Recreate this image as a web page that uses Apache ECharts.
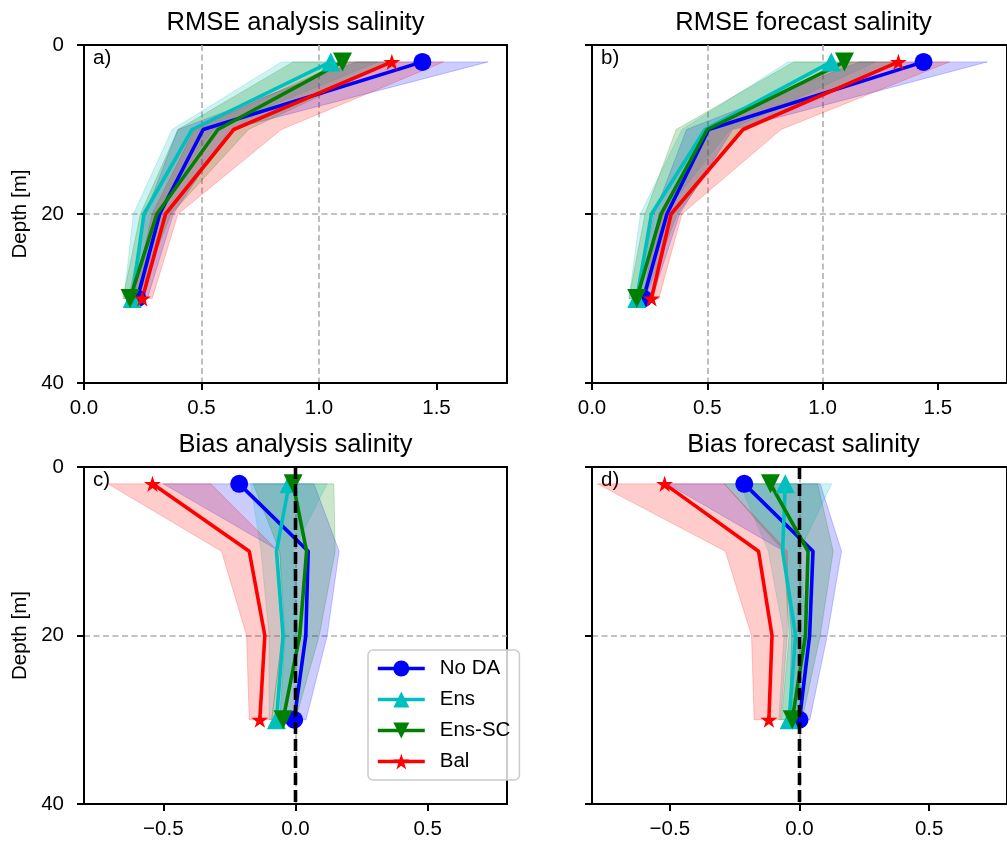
<!DOCTYPE html>
<html>
<head>
<meta charset="utf-8">
<script src="https://cdn.jsdelivr.net/npm/echarts@6/dist/echarts.min.js"></script>
<style>
html,body{margin:0;padding:0;background:#fff;}
#main{width:1007px;height:848px;}
</style>
</head>
<body>
<div id="main"></div>
<script>
// ---------------- DATA ----------------
const depth = [2, 10, 20, 30];
const seriesNames = ['No DA', 'Ens', 'Ens-SC', 'Bal'];
const panelTitles = ['RMSE analysis salinity', 'RMSE forecast salinity', 'Bias analysis salinity', 'Bias forecast salinity'];
const panelLetters = ['a)', 'b)', 'c)', 'd)'];
const rmseTicks = [0, 0.5, 1.0, 1.5];
const biasTicks = [-0.5, 0, 0.5];
const depthTicks = [0, 20, 40];
const zeroRef = 0;

// a) RMSE analysis
const rmseAnaNoDA = [1.44, 0.507, 0.322, 0.227];
const rmseAnaNoDALo = [1.16, 0.40, 0.26, 0.19];
const rmseAnaNoDAHi = [1.72, 0.62, 0.38, 0.27];
const rmseAnaEns = [1.05, 0.46, 0.255, 0.205];
const rmseAnaEnsLo = [0.84, 0.375, 0.21, 0.17];
const rmseAnaEnsHi = [1.25, 0.55, 0.30, 0.24];
const rmseAnaEnsSC = [1.10, 0.57, 0.31, 0.196];
const rmseAnaEnsSCLo = [0.89, 0.40, 0.24, 0.165];
const rmseAnaEnsSCHi = [1.31, 0.70, 0.37, 0.23];
const rmseAnaBal = [1.31, 0.637, 0.347, 0.248];
const rmseAnaBalLo = [1.10, 0.47, 0.29, 0.21];
const rmseAnaBalHi = [1.53, 0.84, 0.40, 0.29];

// b) RMSE forecast
const rmseFcNoDA = [1.438, 0.506, 0.325, 0.223];
const rmseFcNoDALo = [1.16, 0.41, 0.27, 0.19];
const rmseFcNoDAHi = [1.715, 0.61, 0.38, 0.26];
const rmseFcEns = [1.038, 0.49, 0.258, 0.194];
const rmseFcEnsLo = [0.85, 0.39, 0.21, 0.16];
const rmseFcEnsHi = [1.23, 0.60, 0.31, 0.23];
const rmseFcEnsSC = [1.095, 0.50, 0.30, 0.194];
const rmseFcEnsSCLo = [0.875, 0.365, 0.23, 0.16];
const rmseFcEnsSCHi = [1.32, 0.64, 0.37, 0.23];
const rmseFcBal = [1.329, 0.655, 0.343, 0.258];
const rmseFcBalLo = [1.11, 0.50, 0.29, 0.22];
const rmseFcBalHi = [1.55, 0.82, 0.39, 0.29];

// c) Bias analysis
const biasAnaNoDA = [-0.213, 0.048, 0.039, -0.005];
const biasAnaNoDALo = [-0.50, -0.06, -0.04, -0.06];
const biasAnaNoDAHi = [0.07, 0.165, 0.12, 0.04];
const biasAnaEns = [-0.024, -0.072, -0.047, -0.072];
const biasAnaEnsLo = [-0.17, -0.13, -0.10, -0.10];
const biasAnaEnsHi = [0.12, -0.01, 0.01, -0.04];
const biasAnaEnsSC = [-0.009, 0.042, 0.016, -0.047];
const biasAnaEnsSCLo = [-0.16, -0.06, -0.05, -0.09];
const biasAnaEnsSCHi = [0.145, 0.15, 0.09, 0.0];
const biasAnaBal = [-0.541, -0.175, -0.116, -0.135];
const biasAnaBalLo = [-0.71, -0.28, -0.185, -0.175];
const biasAnaBalHi = [-0.32, -0.065, -0.05, -0.09];

// d) Bias forecast
const biasFcNoDA = [-0.213, 0.052, 0.039, 0.0];
const biasFcNoDALo = [-0.51, -0.06, -0.03, -0.04];
const biasFcNoDAHi = [0.08, 0.162, 0.107, 0.04];
const biasFcEns = [-0.055, -0.065, -0.015, -0.04];
const biasFcEnsLo = [-0.23, -0.12, -0.06, -0.08];
const biasFcEnsHi = [0.124, 0.0, 0.03, 0.0];
const biasFcEnsSC = [-0.112, 0.033, 0.023, -0.028];
const biasFcEnsSCLo = [-0.29, -0.06, -0.04, -0.07];
const biasFcEnsSCHi = [0.07, 0.13, 0.08, 0.01];
const biasFcBal = [-0.52, -0.158, -0.106, -0.118];
const biasFcBalLo = [-0.78, -0.286, -0.185, -0.175];
const biasFcBalHi = [-0.29, -0.047, -0.047, -0.073];

// ---------------- STYLE ----------------
const FONT = '"Liberation Sans", Arial, sans-serif';
const colors = ['#0000ff', '#00bfbf', '#008000', '#ff0000'];
const bandFills = ['rgba(0,0,255,0.2)', 'rgba(0,191,191,0.2)', 'rgba(0,128,0,0.2)', 'rgba(255,0,0,0.2)'];
const STAR = 'path://M50,0 L61.2,34.5 L97.6,34.5 L68.2,55.9 L79.4,90.5 L50,69.1 L20.6,90.5 L31.8,55.9 L2.4,34.5 L38.8,34.5 Z';
const DOWNTRI = 'path://M0,0 L100,0 L50,100 Z';
const symbols = ['circle', 'triangle', DOWNTRI, STAR];
const symbolSizes = [18, 19, 19, 17];

const panels = [
  { means: [rmseAnaNoDA, rmseAnaEns, rmseAnaEnsSC, rmseAnaBal], los: [rmseAnaNoDALo, rmseAnaEnsLo, rmseAnaEnsSCLo, rmseAnaBalLo], his: [rmseAnaNoDAHi, rmseAnaEnsHi, rmseAnaEnsSCHi, rmseAnaBalHi], bias: false },
  { means: [rmseFcNoDA, rmseFcEns, rmseFcEnsSC, rmseFcBal], los: [rmseFcNoDALo, rmseFcEnsLo, rmseFcEnsSCLo, rmseFcBalLo], his: [rmseFcNoDAHi, rmseFcEnsHi, rmseFcEnsSCHi, rmseFcBalHi], bias: false },
  { means: [biasAnaNoDA, biasAnaEns, biasAnaEnsSC, biasAnaBal], los: [biasAnaNoDALo, biasAnaEnsLo, biasAnaEnsSCLo, biasAnaBalLo], his: [biasAnaNoDAHi, biasAnaEnsHi, biasAnaEnsSCHi, biasAnaBalHi], bias: true },
  { means: [biasFcNoDA, biasFcEns, biasFcEnsSC, biasFcBal], los: [biasFcNoDALo, biasFcEnsLo, biasFcEnsSCLo, biasFcBalLo], his: [biasFcNoDAHi, biasFcEnsHi, biasFcEnsSCHi, biasFcBalHi], bias: true }
];

const gridBoxes = [
  { left: 84, top: 45, width: 423, height: 338 },
  { left: 592, top: 45, width: 423, height: 338 },
  { left: 84, top: 467, width: 423, height: 337 },
  { left: 592, top: 467, width: 423, height: 337 }
];

function fmtX(v) {
  const s = Math.abs(v).toFixed(1);
  return v < -1e-9 ? '\u2212' + s : s;
}

const grids = [], xAxes = [], yAxes = [], series = [], graphics = [];

panels.forEach((p, k) => {
  const g = gridBoxes[k];
  grids.push(Object.assign({ show: true, borderColor: '#000', borderWidth: 2, backgroundColor: 'transparent', containLabel: false }, g));
  const ticks = p.bias ? biasTicks : rmseTicks;
  const xa = {
    type: 'value', gridIndex: k,
    min: p.bias ? -0.8 : 0, max: p.bias ? 0.8 : 1.8,
    axisLine: { show: true, onZero: false, lineStyle: { color: '#000', width: 2 } },
    axisTick: { show: true, length: 7, lineStyle: { color: '#000', width: 2 }, customValues: ticks },
    axisLabel: { show: true, customValues: ticks, formatter: fmtX, fontFamily: FONT, fontSize: 20.5, color: '#000', margin: 15 },
    splitLine: { show: true, showMinLine: false, showMaxLine: false, lineStyle: { color: '#b0b0b0', width: 1.6, type: [6, 3.5] } }
  };
  if (p.bias) { xa.splitNumber = 3; } else { xa.interval = 0.5; }
  xAxes.push(xa);
  yAxes.push({
    type: 'value', gridIndex: k, inverse: true, min: 0, max: 40, interval: 20,
    axisLine: { show: true, onZero: false, lineStyle: { color: '#000', width: 2 } },
    axisTick: { show: true, length: 7, lineStyle: { color: '#000', width: 2 }, customValues: depthTicks },
    axisLabel: { show: k % 2 === 0, customValues: depthTicks, fontFamily: FONT, fontSize: 20.5, color: '#000', margin: 20 },
    splitLine: { show: true, showMinLine: false, showMaxLine: false, lineStyle: { color: '#b0b0b0', width: 1.6, type: [6, 3.5] } }
  });

  // bands
  p.means.forEach((m, si) => {
    const lo = p.los[si], hi = p.his[si];
    series.push({
      type: 'custom', xAxisIndex: k, yAxisIndex: k, silent: true, z: 1,
      data: [[m[0], depth[0]]],
      renderItem: function (params, api) {
        const pts = [];
        for (let i = 0; i < depth.length; i++) pts.push(api.coord([lo[i], depth[i]]));
        for (let i = depth.length - 1; i >= 0; i--) pts.push(api.coord([hi[i], depth[i]]));
        return { type: 'polygon', shape: { points: pts }, style: { fill: bandFills[si], stroke: bandFills[si], lineWidth: 1 } };
      }
    });
  });
  // lines (markers only at the first and last depth)
  p.means.forEach((m, si) => {
    const last = depth.length - 1;
    series.push({
      name: seriesNames[si], type: 'line', xAxisIndex: k, yAxisIndex: k, z: 3,
      data: depth.map((d, i) => (i === 0 || i === last) ? { value: [m[i], d] } : { value: [m[i], d], symbol: 'none' }),
      symbol: symbols[si], symbolSize: symbolSizes[si], symbolKeepAspect: true, showAllSymbol: true,
      lineStyle: { color: colors[si], width: 3.6 },
      itemStyle: { color: colors[si] },
      emphasis: { disabled: true }
    });
  });
  if (p.bias) {
    series.push({
      type: 'line', xAxisIndex: k, yAxisIndex: k, z: 5, silent: true,
      data: [[zeroRef, 0], [zeroRef, 40]], symbol: 'none',
      lineStyle: { color: '#000', width: 3.6, type: [12, 5] }
    });
  }
  // titles and panel letters
  graphics.push({ type: 'text', x: g.left + g.width / 2, y: g.top - 22, style: { text: panelTitles[k], font: '25.5px ' + FONT, fill: '#000', align: 'center', verticalAlign: 'middle', textAlign: 'center', textVerticalAlign: 'middle' } });
  graphics.push({ type: 'text', x: g.left + 9, y: g.top + 13, style: { text: panelLetters[k], font: '20.5px ' + FONT, fill: '#000', align: 'left', verticalAlign: 'middle', textAlign: 'left', textVerticalAlign: 'middle' } });
  if (k % 2 === 0) {
    graphics.push({ type: 'text', x: 20, y: g.top + g.height / 2, rotation: Math.PI / 2, style: { text: 'Depth [m]', font: '20.5px ' + FONT, fill: '#000', align: 'center', verticalAlign: 'middle', textAlign: 'center', textVerticalAlign: 'middle' } });
  }
});

const chart = echarts.init(document.getElementById('main'), null, { renderer: 'canvas' });
chart.setOption({
  animation: false,
  backgroundColor: '#fff',
  grid: grids, xAxis: xAxes, yAxis: yAxes, series: series,
  graphic: graphics,
  legend: {
    data: seriesNames, orient: 'vertical', left: 368, top: 650,
    itemWidth: 47, itemHeight: 20, itemGap: 10,
    padding: [8, 9, 8, 8],
    backgroundColor: 'rgba(255,255,255,0.8)', borderColor: '#cccccc', borderWidth: 1.5, borderRadius: 5,
    lineStyle: { width: 3.6 },
    textStyle: { fontFamily: FONT, fontSize: 20.5, color: '#000', padding: [0, 0, 0, 10] },
    selectedMode: false
  }
});
</script>
</body>
</html>
